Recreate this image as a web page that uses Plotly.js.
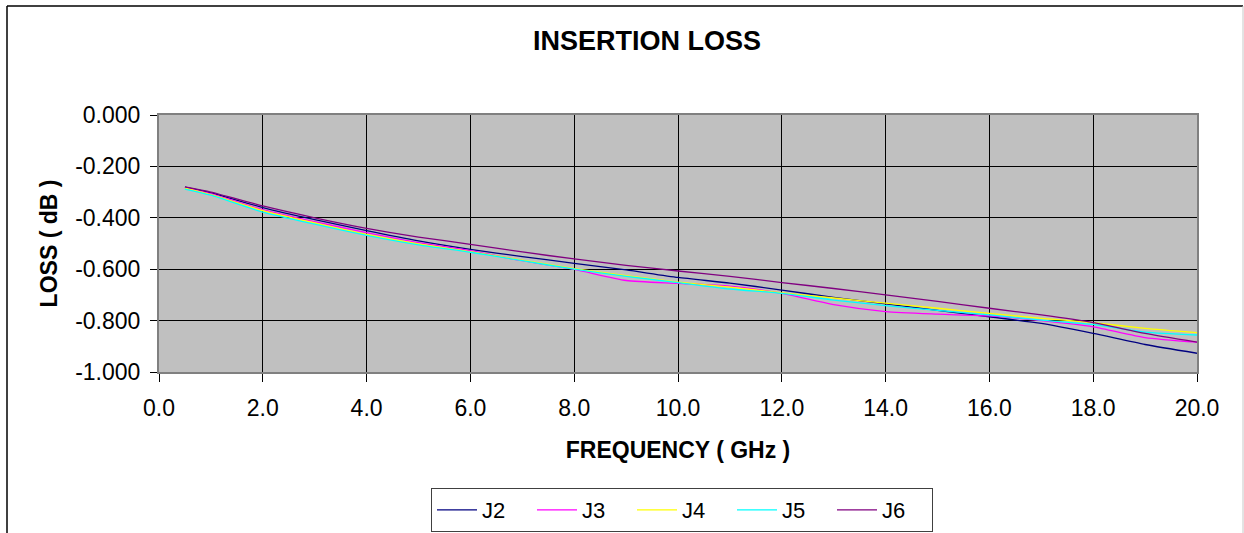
<!DOCTYPE html>
<html>
<head>
<meta charset="utf-8">
<script src="https://cdn.plot.ly/plotly-3.0.1.min.js"></script>
<style>
  html, body { margin: 0; padding: 0; background: #ffffff; }
  #chart { width: 1244px; height: 533px; }
</style>
</head>
<body>
<div id="chart"></div>
<script>
// Frequency (GHz)
const freq = [0.5, 1, 2, 3, 4, 5, 6, 7, 8, 9, 10, 11, 12, 13, 14, 15, 16, 17, 18, 19, 20];

// Insertion loss (dB) per port
const J2 = [-0.281, -0.303, -0.360, -0.407, -0.450, -0.490, -0.523, -0.551, -0.577, -0.603, -0.632, -0.654, -0.681, -0.710, -0.735, -0.760, -0.785, -0.811, -0.850, -0.893, -0.927];
const J3 = [-0.284, -0.307, -0.368, -0.415, -0.458, -0.497, -0.528, -0.567, -0.601, -0.644, -0.655, -0.666, -0.694, -0.738, -0.765, -0.775, -0.782, -0.800, -0.824, -0.866, -0.884];
const J4 = [-0.285, -0.310, -0.372, -0.420, -0.465, -0.502, -0.532, -0.565, -0.598, -0.625, -0.650, -0.670, -0.692, -0.712, -0.732, -0.752, -0.772, -0.791, -0.808, -0.830, -0.847];
const J5 = [-0.288, -0.312, -0.378, -0.425, -0.468, -0.505, -0.534, -0.567, -0.600, -0.628, -0.652, -0.677, -0.694, -0.720, -0.742, -0.760, -0.778, -0.798, -0.815, -0.845, -0.856];
const J6 = [-0.280, -0.300, -0.354, -0.400, -0.441, -0.475, -0.503, -0.533, -0.560, -0.585, -0.607, -0.628, -0.652, -0.675, -0.700, -0.725, -0.752, -0.778, -0.808, -0.850, -0.884];

const seriesNames = ['J2', 'J3', 'J4', 'J5', 'J6'];
const seriesValues = [J2, J3, J4, J5, J6];
const seriesColors = ['#000080', '#FF00FF', '#FFFF00', '#00FFFF', '#800080'];

const xTickVals = [0, 2, 4, 6, 8, 10, 12, 14, 16, 18, 20];
const xTickText = ['0.0', '2.0', '4.0', '6.0', '8.0', '10.0', '12.0', '14.0', '16.0', '18.0', '20.0'];
const yTickVals = [0, -0.2, -0.4, -0.6, -0.8, -1.0];
const yTickText = ['0.000', '-0.200', '-0.400', '-0.600', '-0.800', '-1.000'];

const traces = seriesNames.map((name, i) => ({
  type: 'scatter',
  mode: 'lines',
  name: name,
  x: freq,
  y: seriesValues[i],
  line: { color: seriesColors[i], width: 1.3, shape: 'spline', smoothing: 0.6 }
}));

const FONT = 'Liberation Sans, Arial, sans-serif';

// plot area in pixels
const L = 159, R = 1197, T = 115, B = 372;
const W = 1244, H = 533;
const px2x = p => (p - L) / (R - L);
const px2y = p => (B - p) / (B - T);

const layout = {
  width: W,
  height: H,
  margin: { l: L, r: W - R, t: T, b: H - B, pad: 0, autoexpand: false },
  paper_bgcolor: '#ffffff',
  plot_bgcolor: '#C0C0C0',
  font: { family: FONT, color: '#000000', size: 23 },
  title: {
    text: '<b>INSERTION LOSS</b>',
    font: { family: FONT, size: 27, color: '#000000' },
    xref: 'container', yref: 'container',
    x: 647 / W, xanchor: 'center',
    y: 1 - 41 / H, yanchor: 'middle'
  },
  xaxis: {
    range: [0, 20],
    tickmode: 'array',
    tickvals: xTickVals,
    ticktext: xTickText,
    ticks: 'outside',
    ticklen: 8,
    tickcolor: '#000000',
    tickwidth: 1,
    ticklabelstandoff: 6,
    tickfont: { family: FONT, size: 23, color: '#000000' },
    showgrid: true,
    gridcolor: '#000000',
    gridwidth: 1,
    zeroline: false,
    showline: true,
    linecolor: '#808080',
    linewidth: 2,
    mirror: true,
    title: {
      text: '<b>FREQUENCY ( GHz )</b>',
      font: { family: FONT, size: 23, color: '#000000' },
      standoff: 22
    }
  },
  yaxis: {
    range: [-1, 0],
    tickmode: 'array',
    tickvals: yTickVals,
    ticktext: yTickText,
    ticks: 'outside',
    ticklen: 7,
    tickcolor: '#000000',
    tickwidth: 1,
    ticklabelstandoff: 5,
    tickfont: { family: FONT, size: 23, color: '#000000' },
    showgrid: true,
    gridcolor: '#000000',
    gridwidth: 1,
    zeroline: false,
    showline: true,
    linecolor: '#808080',
    linewidth: 2,
    mirror: true,
    title: {
      text: '<b>LOSS ( dB )</b>',
      font: { family: FONT, size: 23, color: '#000000' },
      standoff: 11
    }
  },
  showlegend: true,
  legend: {
    orientation: 'h',
    x: px2x(682), xanchor: 'center',
    y: px2y(510), yanchor: 'middle',
    bgcolor: '#ffffff',
    bordercolor: '#404040',
    borderwidth: 1,
    font: { family: FONT, size: 22, color: '#000000' },
    itemwidth: 40,
    entrywidth: 45,
    tracegroupgap: 0
  },
  shapes: [
    { type: 'line', xref: 'paper', yref: 'paper', x0: px2x(7), x1: px2x(1243), y0: px2y(6), y1: px2y(6), line: { color: '#000000', width: 1.5 } },
    { type: 'line', xref: 'paper', yref: 'paper', x0: px2x(7), x1: px2x(7), y0: px2y(6), y1: px2y(540), line: { color: '#000000', width: 1.5 } },
    { type: 'line', xref: 'paper', yref: 'paper', x0: px2x(1243), x1: px2x(1243), y0: px2y(6), y1: px2y(540), line: { color: '#C8C8C8', width: 1 } }
  ]
};

Plotly.newPlot('chart', traces, layout, { displayModeBar: false, staticPlot: true });
</script>
</body>
</html>
